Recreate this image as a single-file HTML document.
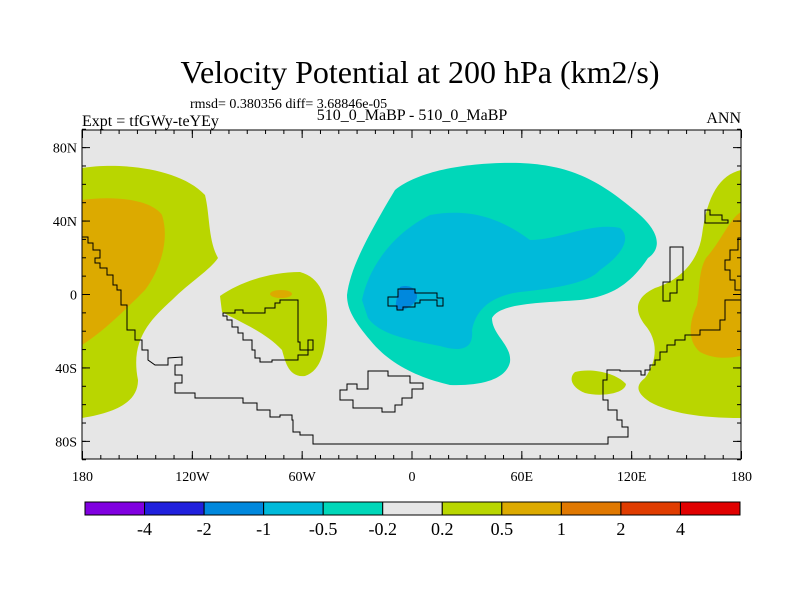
<!DOCTYPE html>
<html><head><meta charset="utf-8"><style>
body{margin:0;background:#fff}
svg{display:block;font-family:"Liberation Serif",serif}
</style></head><body>
<svg width="800" height="600" viewBox="0 0 800 600">
<text x="420" y="83" font-size="32" text-anchor="middle">Velocity Potential at 200 hPa (km2/s)</text>
<text x="190" y="108" font-size="14">rmsd= 0.380356 diff= 3.68846e-05</text>
<text x="82" y="126" font-size="16">Expt = tfGWy-teYEy</text>
<text x="412" y="120" font-size="16" text-anchor="middle">510_0_MaBP - 510_0_MaBP</text>
<text x="741" y="123" font-size="16" text-anchor="end">ANN</text>
<g>
<rect x="82" y="130" width="659" height="329" fill="#e6e6e6"/>
<path fill="#b9d600" d="M82,168 C120,162 180,168 205,195 C210,215 208,240 218,258 C210,270 190,282 172,300 C150,320 130,340 138,380 C138,400 120,412 82,418 Z"/>
<path fill="#dcaa00" d="M82,200 C110,196 150,198 162,215 C170,240 160,270 145,290 C125,310 105,330 82,345 Z"/>
<path fill="#b9d600" d="M220,296 C240,282 270,272 300,272 C322,278 328,300 327,325 C325,350 322,370 305,376 C288,378 285,360 282,350 C265,332 240,322 222,312 Z"/>
<ellipse cx="281" cy="294" rx="11" ry="4" fill="#dcaa00"/>
<path fill="#00d7b9" d="M347,295 C350,270 365,240 395,190 C420,170 470,162 520,163 C570,165 600,180 640,215 C662,235 660,250 648,258 C630,285 610,297 580,300 C540,303 500,303 492,318 C492,335 512,345 510,362 C506,380 480,386 450,385 C420,378 390,365 370,340 C355,322 347,310 347,295 Z"/>
<path fill="#00bada" d="M362,300 C368,270 390,235 430,215 C470,208 500,218 530,240 C560,240 590,222 620,228 C632,238 622,255 600,270 C590,282 560,288 520,292 C490,296 476,310 472,330 C474,350 460,352 440,346 C410,340 380,335 368,318 Z"/>
<path fill="#0088dd" d="M400,287 C408,284 418,288 417,298 C414,306 404,312 396,309 C395,302 398,294 400,287 Z"/>
<path fill="#b9d600" d="M741,170 C720,175 707,195 702,235 C698,262 680,280 655,288 C638,296 632,308 645,325 C658,340 658,360 645,378 C636,385 635,392 650,402 C670,413 700,418 741,418 Z"/>
<path fill="#b9d600" d="M575,372 C590,368 615,372 626,384 C625,394 600,397 585,393 C572,388 568,378 575,372 Z"/>
<path fill="#dcaa00" d="M741,212 C730,218 722,240 706,258 C698,272 700,290 697,305 C690,320 686,340 700,352 C715,360 730,358 741,356 Z"/>
<g fill="none" stroke="#000" stroke-width="1">
<polyline points="82,237 88,237 88,243 93,243 93,250 100,250 100,258 95,258 95,263 100,263 100,268 107,268 107,275 113,275 113,285 117,285 117,290 121,290 121,305 127,305 127,330 135,330 135,340 142,340 142,350 148,350 148,360 155,365 168,365 168,358 182,357 182,365 175,365 175,375 182,375 182,383 175,383 175,393 195,393 195,398 243,398 243,403 257,403 257,410 270,410 270,417 280,417 280,415 292,415 292,420 293,420 293,432 300,432 300,435 313,435 313,444 608,444 608,437 628,437 628,427 622,427 622,420 617,420 617,410 608,410 608,400 603,400 603,380 607,380 607,370 620,370 620,371 641,371 641,375 645,375 645,370 650,370 650,365 655,365 655,360 660,360 660,352 667,352 667,345 675,345 675,340 685,340 685,335 700,335 700,330 720,330 720,320 725,320 725,300 735,300 735,300 741,300"/>
<polyline points="741,238 738,238 738,250 730,250 730,260 725,260 725,270 730,270 730,280 735,280 735,290 741,290"/>
<polygon points="223,313 235,313 235,310 243,310 243,313 265,313 265,308 275,308 275,303 280,303 280,300 298,300 298,342 300,342 300,350 313,350 313,340 308,340 308,355 298,355 298,360 272,360 272,362 260,362 260,358 255,358 255,350 252,350 252,340 243,340 243,333 238,333 238,327 232,327 232,320 227,320 227,316 223,316"/>
<polygon points="340,390 347,390 347,384 357,384 357,389 368,389 368,371 388,371 388,376 410,376 410,383 423,383 423,389 412,389 412,398 402,398 402,405 395,405 395,412 382,412 382,408 353,408 353,400 340,400"/>
<polygon points="388,297 398,297 398,289 415,289 415,293 437,293 437,298 443,298 443,306 437,306 437,300 420,300 420,303 415,303 415,307 403,307 403,310 397,310 397,306 388,306"/>
<polygon points="670,247 683,247 683,280 677,280 677,293 670,293 670,301 663,301 663,282 670,282"/>
<polygon points="705,210 710,210 710,215 722,215 722,220 728,220 728,223 705,223"/>
</g>
<rect x="82" y="130" width="659" height="329" fill="none" stroke="#000" stroke-width="1"/>
<g id="ticks" stroke="#000" stroke-width="1"></g>
<g id="labels" font-size="14"></g>
</g>
<g id="colorbar"></g>
<g id="cblabels" font-size="18"></g>
</svg>
<script>
const latTicks=[80,40,0,-40,-80];
const latLabels=["80N","40N","0","40S","80S"];
const lonTicks=[-180,-120,-60,0,60,120,180];
const lonLabels=["180","120W","60W","0","60E","120E","180"];
const cbColors=["#8000e0","#2020dd","#0088dd","#00bada","#00d7b9","#e6e6e6","#b9d600","#dcaa00","#e07800","#e03c00","#e00000"];
const cbLabels=["-4","-2","-1","-0.5","-0.2","0.2","0.5","1","2","4"];
const NS="http://www.w3.org/2000/svg";
const xOf=lon=>412+lon*659/360;
const yOf=lat=>294.5-lat*1.836;
const tk=document.getElementById('ticks'),lb=document.getElementById('labels');
function mk(t,a,p){const e=document.createElementNS(NS,t);for(const k in a)e.setAttribute(k,a[k]);p.appendChild(e);return e;}
for(let lat=-90;lat<=90;lat+=10){const y=yOf(lat);
 const a=mk('line',{x1:82,x2:86,y1:y,y2:y},tk);
 
 
 const b=mk('line',{x1:737,x2:741,y1:y,y2:y},tk);
 
 }
for(let lon=-180;lon<=180;lon+=10){const x=xOf(lon);
 const a=mk('line',{x1:x,x2:x,y1:455,y2:459},tk);
 
 
 const b=mk('line',{x1:x,x2:x,y1:130,y2:134},tk);
 
 }
latTicks.forEach((v,i)=>{const y=yOf(v);
 const l=mk('line',{x1:82,x2:90,y1:y,y2:y},tk);
 
 
 const r=mk('line',{x1:733,x2:741,y1:y,y2:y},tk);
 
 
 const t=mk('text',{x:77,y:y+5,'text-anchor':'end'},lb);t.textContent=latLabels[i];
 
 });
lonTicks.forEach((v,i)=>{const x=xOf(v);
 const l=mk('line',{x1:x,x2:x,y1:451,y2:459},tk);
 
 
 const u=mk('line',{x1:x,x2:x,y1:130,y2:138},tk);
 
 
 const t=mk('text',{x:x,y:481,'text-anchor':'middle'},lb);t.textContent=lonLabels[i];
 
 });
const cb=document.getElementById('colorbar'),cl=document.getElementById('cblabels');
const x0=85,x1=740,w=(x1-x0)/cbColors.length;
cbColors.forEach((c,i)=>{const r=mk('rect',{x:x0+i*w,y:502,width:w,height:13,fill:c,stroke:'#000','stroke-width':1},cb);
 
 });
cbLabels.forEach((s,i)=>{const t=mk('text',{x:x0+(i+1)*w,y:535,'text-anchor':'middle'},cl);t.textContent=s;
 
 });
</script>
</body></html>
